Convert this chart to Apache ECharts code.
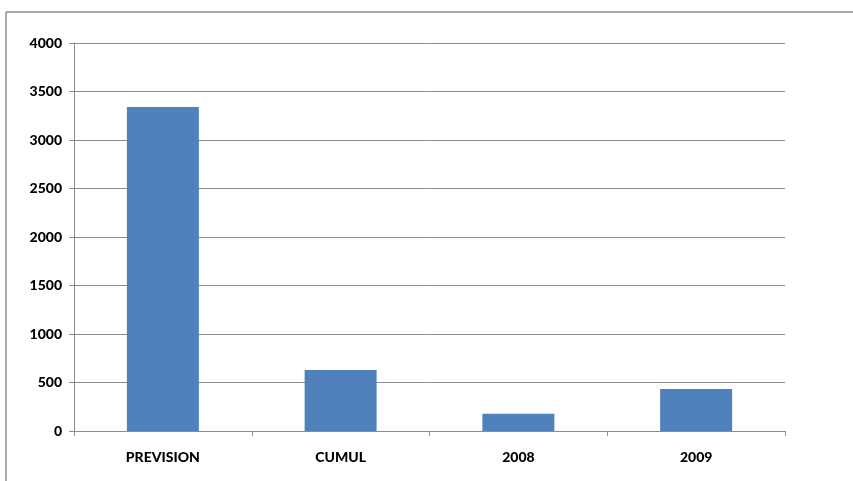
<!DOCTYPE html>
<html>
<head>
<meta charset="utf-8">
<script src="https://cdn.jsdelivr.net/npm/echarts@6/dist/echarts.min.js"></script>
<style>
html,body{margin:0;padding:0;background:#fff;}
#chart{width:853px;height:481px;}
</style>
</head>
<body>
<div id="chart"></div>
<script>
var categories = ["PREVISION", "CUMUL", "2008", "2009"];
var values = [3340, 630, 178, 433];
var yTicks = [0, 500, 1000, 1500, 2000, 2500, 3000, 3500, 4000];

var chart = echarts.init(document.getElementById('chart'), null, {renderer: 'canvas'});
chart.setOption({
  animation: false,
  backgroundColor: '#ffffff',
  graphic: [
    {type: 'line', shape: {x1: 6, y1: 12, x2: 853, y2: 12}, style: {stroke: '#8c8c8c', lineWidth: 1.5}},
    {type: 'line', shape: {x1: 6, y1: 12, x2: 6, y2: 481}, style: {stroke: '#8c8c8c', lineWidth: 1.5}}
  ],
  grid: {left: 74, right: 68, top: 43, bottom: 50, containLabel: false},
  xAxis: {
    type: 'category',
    data: categories,
    axisLine: {show: true, lineStyle: {color: '#8c8c8c', width: 1}},
    axisTick: {show: true, length: 5, alignWithLabel: false, lineStyle: {color: '#8c8c8c'}},
    axisLabel: {color: '#000', fontFamily: 'Lato', fontWeight: 900, fontSize: 14, margin: 19}
  },
  yAxis: {
    type: 'value',
    min: yTicks[0],
    max: yTicks[yTicks.length - 1],
    interval: 500,
    axisLine: {show: true, lineStyle: {color: '#8c8c8c', width: 1}},
    axisTick: {show: true, length: 5, lineStyle: {color: '#8c8c8c'}},
    splitLine: {show: true, lineStyle: {color: '#8c8c8c', width: 1}},
    axisLabel: {color: '#000', fontFamily: 'Lato', fontWeight: 900, fontSize: 14, margin: 12,
      formatter: function (v) { return String(v); }}
  },
  series: [{
    type: 'bar',
    data: values,
    barWidth: '40.5%',
    itemStyle: {color: '#4f81bd'}
  }]
});
</script>
</body>
</html>
